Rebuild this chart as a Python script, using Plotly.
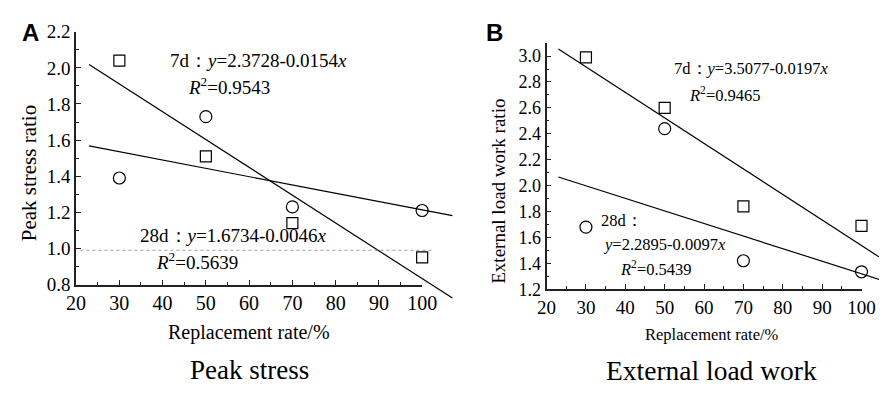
import plotly.graph_objects as go

# ---------------- data ----------------
rate = [30, 50, 70, 100]

# Panel A: peak stress ratio
a_7d = [2.04, 1.51, 1.14, 0.95]      # squares
a_28d = [1.39, 1.73, 1.23, 1.21]     # circles
a_fit_7d = [2.3728, -0.0154]         # intercept, slope
a_fit_28d = [1.6734, -0.0046]
a_fit_x = [23, 107]
a_ref_y = 0.99
a_ref_x = [21, 102.5]

# Panel B: external load work ratio
b_7d = [2.99, 2.60, 1.84, 1.69]
b_28d = [1.68, 2.44, 1.42, 1.335]
b_fit_7d = [3.5077, -0.0197]
b_fit_28d = [2.2895, -0.0097]
b_fit_x = [23, 106]

x_ticks = [20, 30, 40, 50, 60, 70, 80, 90, 100]
a_y_ticks = [0.8, 1.0, 1.2, 1.4, 1.6, 1.8, 2.0, 2.2]
b_y_ticks = [1.2, 1.4, 1.6, 1.8, 2.0, 2.2, 2.4, 2.6, 2.8, 3.0]

# ---------------- geometry ----------------
W, H = 894, 394
SERIF = "Liberation Serif"

def px_dom_x(p0, p1):
    return [p0 / W, p1 / W]

def px_dom_y(top, bottom):
    return [1 - bottom / H, 1 - top / H]

def ext_x(r, p, q):
    s = (r[1] - r[0]) / (p[1] - p[0])
    return [r[0] + (q[0] - p[0]) * s, r[0] + (q[1] - p[0]) * s]

def ext_y(r, top, bottom, qtop, qbottom):
    s = (r[1] - r[0]) / (bottom - top)
    return [r[0] - (qbottom - bottom) * s, r[1] + (top - qtop) * s]

A = dict(px=(68, 424), top=23, bottom=290, xr=[20, 100], yr=[0.8, 2.2],
         opx=(68, 480), otop=23, obottom=330)
B = dict(px=(552, 876), top=35, bottom=295, xr=[20, 100], yr=[1.2, 3.1],
         opx=(552, 894), otop=35, obottom=330)

fig = go.Figure()

def fit_line(coef, xs):
    return [coef[0] + coef[1] * x for x in xs]

line_style = dict(color="black", width=1.2)

# Panel A traces
fig.add_trace(go.Scatter(x=a_fit_x, y=fit_line(a_fit_7d, a_fit_x), mode="lines",
                         line=line_style, xaxis="x3", yaxis="y3", showlegend=False))
fig.add_trace(go.Scatter(x=a_fit_x, y=fit_line(a_fit_28d, a_fit_x), mode="lines",
                         line=line_style, xaxis="x3", yaxis="y3", showlegend=False))
fig.add_trace(go.Scatter(x=a_ref_x, y=[a_ref_y, a_ref_y], mode="lines",
                         line=dict(color="#9a9a9a", width=1.2, dash="dot"),
                         xaxis="x3", yaxis="y3", showlegend=False))
fig.add_trace(go.Scatter(x=rate, y=a_7d, mode="markers", cliponaxis=False,
                         marker=dict(symbol="square-open", size=11, color="black",
                                     line=dict(width=1.2, color="black")),
                         xaxis="x", yaxis="y", showlegend=False))
fig.add_trace(go.Scatter(x=rate, y=a_28d, mode="markers", cliponaxis=False,
                         marker=dict(symbol="circle-open", size=12, color="black",
                                     line=dict(width=1.2, color="black")),
                         xaxis="x", yaxis="y", showlegend=False))

# Panel B traces
fig.add_trace(go.Scatter(x=b_fit_x, y=fit_line(b_fit_7d, b_fit_x), mode="lines",
                         line=line_style, xaxis="x4", yaxis="y4", showlegend=False))
fig.add_trace(go.Scatter(x=b_fit_x, y=fit_line(b_fit_28d, b_fit_x), mode="lines",
                         line=line_style, xaxis="x4", yaxis="y4", showlegend=False))
fig.add_trace(go.Scatter(x=rate, y=b_7d, mode="markers", cliponaxis=False,
                         marker=dict(symbol="square-open", size=11, color="black",
                                     line=dict(width=1.2, color="black")),
                         xaxis="x2", yaxis="y2", showlegend=False))
fig.add_trace(go.Scatter(x=rate, y=b_28d, mode="markers", cliponaxis=False,
                         marker=dict(symbol="circle-open", size=12, color="black",
                                     line=dict(width=1.2, color="black")),
                         xaxis="x2", yaxis="y2", showlegend=False))

def axis(dom, rng, ticks, fsize, anchor, dtick_minor, fmt):
    return dict(domain=dom, range=rng, anchor=anchor, tickmode="array", tickvals=ticks,
                ticktext=[format(t, fmt) for t in ticks],
                showline=True, linecolor="#222", linewidth=1.8,
                ticks="inside", ticklen=5, tickwidth=1.3, tickcolor="#222",
                minor=dict(ticks="inside", ticklen=3, tickwidth=1.2,
                           tickcolor="#222", dtick=dtick_minor, tick0=0),
                showgrid=False, zeroline=False, fixedrange=True,
                tickfont=dict(family=SERIF, size=fsize, color="black"))

hidden = lambda dom, rng, anchor: dict(domain=dom, range=rng, visible=False,
                                       anchor=anchor, fixedrange=True)

layout = dict(
    width=W, height=H, margin=dict(l=0, r=0, t=0, b=0),
    font=dict(family=SERIF, color="black"),
    paper_bgcolor="white", plot_bgcolor="rgba(0,0,0,0)",
    xaxis=axis(px_dom_x(*A["px"]), A["xr"], x_ticks, 20, "y", 5, "d"),
    yaxis=axis(px_dom_y(A["top"], A["bottom"]), A["yr"], a_y_ticks, 19, "x", 0.1, ".1f"),
    xaxis2=axis(px_dom_x(*B["px"]), B["xr"], x_ticks, 19, "y2", 5, "d"),
    yaxis2=axis(px_dom_y(B["top"], B["bottom"]), B["yr"], b_y_ticks, 18, "x2", 0.1, ".1f"),
    xaxis3=hidden(px_dom_x(*A["opx"]), ext_x(A["xr"], A["px"], A["opx"]), "y3"),
    yaxis3=hidden(px_dom_y(A["otop"], A["obottom"]),
                  ext_y(A["yr"], A["top"], A["bottom"], A["otop"], A["obottom"]), "x3"),
    xaxis4=hidden(px_dom_x(*B["opx"]), ext_x(B["xr"], B["px"], B["opx"]), "y4"),
    yaxis4=hidden(px_dom_y(B["otop"], B["obottom"]),
                  ext_y(B["yr"], B["top"], B["bottom"], B["otop"], B["obottom"]), "x4"),
)
fig.update_layout(**layout)

def ann(text, x, y, size, xanchor="center", angle=0, family=SERIF, bold=False):
    fig.add_annotation(text=f"<b>{text}</b>" if bold else text,
                       x=x / W, y=1 - y / H, xref="paper", yref="paper",
                       showarrow=False, xanchor=xanchor, yanchor="middle",
                       textangle=angle, font=dict(family=family, size=size, color="black"))

# Panel letters
ann("A", 21, 24, 24, family="Liberation Sans", bold=True)
ann("B", 498, 24, 24, family="Liberation Sans", bold=True)

# Axis titles
ann("Peak stress ratio", 19, 172, 21, angle=-90)
ann("Replacement rate/%", 246, 341, 20)
ann("External load work ratio", 503, 191, 19, angle=-90)
ann("Replacement rate/%", 722, 343, 16.5)

# Subtitles
ann("Peak stress", 246, 380, 27)
ann("External load work", 722, 381, 27.5)

# Equations A
ann("7d：<i>y</i>=2.3728-0.0154<i>x</i>", 256, 53, 19)
ann("<i>R</i><sup>2</sup>=0.9543", 225, 80, 19)
ann("28d：<i>y</i>=1.6734-0.0046<i>x</i>", 229, 238, 19)
ann("<i>R</i><sup>2</sup>=0.5639", 192, 265, 19)

# Equations B
ann("7d：<i>y</i>=3.5077-0.0197<i>x</i>", 762, 62, 16.5)
ann("<i>R</i><sup>2</sup>=0.9465", 736, 89, 16.5)
ann("28d：", 630, 222, 16.5)
ann("<i>y</i>=2.2895-0.0097<i>x</i>", 673, 248, 16.5)
ann("<i>R</i><sup>2</sup>=0.5439", 665, 273, 16.5)

fig.write_html("out.html")
